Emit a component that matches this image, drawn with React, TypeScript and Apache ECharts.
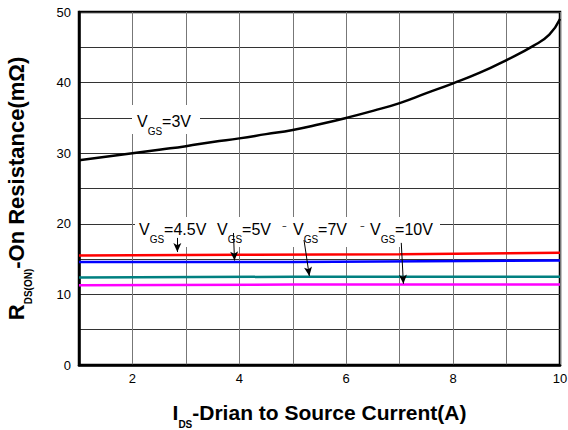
import React, { useEffect, useRef } from "react";
import * as echarts from "echarts";

const xTicks = [2, 4, 6, 8, 10];
const yTicks = [0, 10, 20, 30, 40, 50];

const vgs3: [number, number][] = [
  [1, 29.0], [1.5, 29.5], [2, 30.0], [2.5, 30.5], [3, 31.0], [3.5, 31.6], [4, 32.1],
  [4.5, 32.7], [5, 33.3], [5.5, 34.1], [6, 35.0], [6.5, 36.0], [7, 37.1], [7.5, 38.5],
  [8, 39.9], [8.5, 41.4], [9, 43.2], [9.5, 45.2], [9.8, 46.8], [10, 49.0],
];
const vgs45: [number, number][] = [[1, 15.5], [4, 15.6], [7, 15.7], [10, 15.9]];
const vgs5: [number, number][] = [[1, 14.6], [5, 14.6], [10, 14.8]];
const vgs7: [number, number][] = [[1, 12.4], [5, 12.5], [10, 12.5]];
const vgs10: [number, number][] = [[1, 11.3], [5, 11.4], [10, 11.4]];

const arrows: [[number, number], [number, number]][] = [
  [[2.84, 18.0], [2.84, 16.0]],
  [[3.89, 18.7], [3.91, 14.8]],
  [[5.21, 17.7], [5.31, 12.6]],
  [[7.03, 17.3], [7.07, 11.5]],
];

const FONT = "Liberation Sans, Arial, sans-serif";

const labelRich = {
  v: { fontSize: 16, fontFamily: FONT, color: "#000" },
  s: { fontSize: 10, fontFamily: FONT, color: "#000", padding: [20, 0, 0, 0] },
};

const titleRich = (size: number) => ({
  b: { fontSize: size, fontWeight: "bold", fontFamily: FONT, color: "#000" },
  s: { fontSize: 10, fontWeight: "bold", fontFamily: FONT, color: "#000", padding: [24, 0, 0, 0] },
});

export default function App() {
  const ref = useRef<HTMLDivElement>(null);
  useEffect(() => {
    document.body.style.margin = "0";
    const chart = echarts.init(ref.current!, null, { renderer: "svg" });
    const lineSeries = (data: [number, number][], color: string, smooth = false) => ({
      type: "line",
      data,
      smooth,
      showSymbol: false,
      lineStyle: { color, width: 2.5 },
      z: 3,
    });
    chart.setOption({
      animation: false,
      backgroundColor: "#fff",
      grid: {
        left: 79, right: 8, top: 12, bottom: 65,
        containLabel: false,
        outerBoundsMode: "none",
        show: true, borderColor: "#000", borderWidth: 2.5,
      },
      xAxis: {
        type: "value", min: 1, max: 10, interval: 1,
        axisLine: { show: true, onZero: false, lineStyle: { color: "#000", width: 2.5 } },
        axisTick: { show: false },
        splitLine: { show: true, lineStyle: { color: "#777", width: 1 } },
        axisLabel: {
          color: "#000", fontSize: 13, fontFamily: FONT, margin: 7,
          formatter: (v: number) => (xTicks.includes(v) ? String(v) : ""),
        },
        name: "{b|I}{s|DS}{b|-Drian to Source Current(A)}",
        nameLocation: "middle",
        nameGap: 30,
        nameTextStyle: { rich: titleRich(21) },
      },
      yAxis: {
        type: "value", min: 0, max: 50, interval: 5,
        axisLine: { show: true, onZero: false, lineStyle: { color: "#000", width: 2.5 } },
        axisTick: { show: false },
        splitLine: { show: true, lineStyle: { color: "#333", width: 1 } },
        axisLabel: {
          color: "#000", fontSize: 13, fontFamily: FONT, margin: 8,
          formatter: (v: number) => (yTicks.includes(v) ? String(v) : ""),
        },
        name: "{b|R}{s|DS(ON)}{b|-On Resistance(mΩ)}",
        nameLocation: "middle",
        nameGap: 46,
        nameRotate: 90,
        nameTextStyle: { rich: titleRich(22) },
      },
      series: [
        lineSeries(vgs3, "#000", true),
        lineSeries(vgs45, "#ff0000"),
        lineSeries(vgs5, "#0000ff"),
        lineSeries(vgs7, "#008080"),
        {
          ...lineSeries(vgs10, "#ff00ff"),
          markLine: {
            silent: true,
            symbol: ["none", "arrow"],
            symbolSize: [6, 9],
            label: { show: false },
            lineStyle: { color: "#000", width: 1, type: "solid" },
            data: arrows.map(([a, b]) => [{ coord: a }, { coord: b }]),
            z: 6,
          },
        },
      ],
      graphic: [
        { type: "rect", shape: { x: 132, y: 105, width: 68, height: 29 }, style: { fill: "#fff" }, z: 4 },
        {
          type: "text", x: 137, y: 106, z: 5,
          style: { text: "{v|V}{s|GS}{v|=3V}", rich: labelRich },
        },
        { type: "rect", shape: { x: 135, y: 217, width: 305, height: 30 }, style: { fill: "#fff" }, z: 4 },
        { type: "text", x: 139, y: 214, z: 5, style: { text: "{v|V}{s|GS}{v|=4.5V}", rich: labelRich } },
        { type: "text", x: 217, y: 214, z: 5, style: { text: "{v|V}{s|GS}{v|=5V}", rich: labelRich } },
        { type: "text", x: 282, y: 223, z: 5, style: { text: "⁻", font: `14px ${FONT}`, fill: "#000" } },
        { type: "text", x: 293, y: 214, z: 5, style: { text: "{v|V}{s|GS}{v|=7V}", rich: labelRich } },
        { type: "text", x: 360, y: 223, z: 5, style: { text: "⁻", font: `14px ${FONT}`, fill: "#000" } },
        { type: "text", x: 370, y: 214, z: 5, style: { text: "{v|V}{s|GS}{v|=10V}", rich: labelRich } },
      ],
    });
    return () => chart.dispose();
  }, []);
  return <div ref={ref} style={{ width: 568, height: 430 }} />;
}
